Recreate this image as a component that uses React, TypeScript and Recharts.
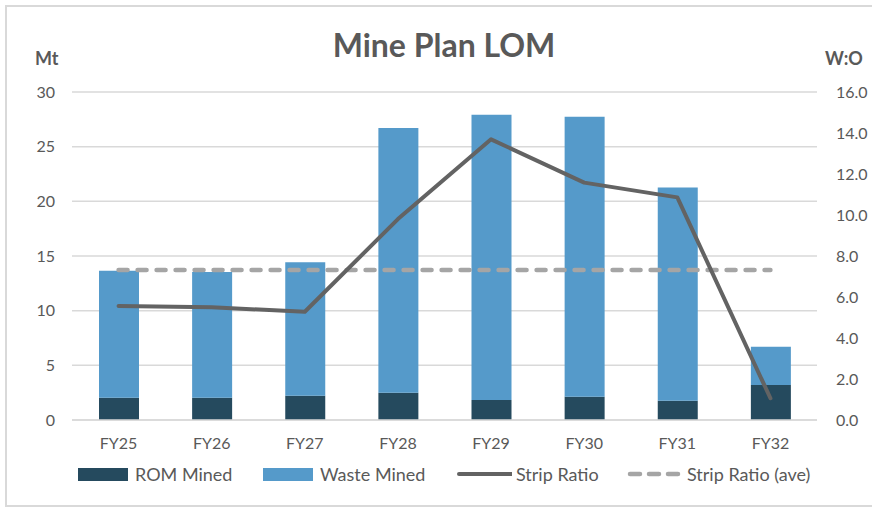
import { Bar, CartesianGrid, ComposedChart, Line, XAxis, YAxis } from 'recharts';

const years = ['FY25', 'FY26', 'FY27', 'FY28', 'FY29', 'FY30', 'FY31', 'FY32'];
const romMined = [2.04, 2.04, 2.22, 2.5, 1.83, 2.13, 1.77, 3.2];
const wasteMined = [11.6, 11.5, 12.2, 24.2, 26.1, 25.6, 19.5, 3.5];
const stripRatio = [5.56, 5.5, 5.28, 9.8, 13.69, 11.58, 10.86, 1.06];
const stripRatioAve = [7.32, 7.32, 7.32, 7.32, 7.32, 7.32, 7.32, 7.32];
const leftTicks = [0, 5, 10, 15, 20, 25, 30];
const rightTicks = [0, 2, 4, 6, 8, 10, 12, 14, 16];

const ROM_COLOR = '#254A5E';
const WASTE_COLOR = '#559ACA';
const STRIP_COLOR = '#636363';
const AVE_COLOR = '#A5A5A5';
const TEXT_COLOR = '#595959';
const GRID_COLOR = '#D9D9D9';
const FONT = 'Lato, "Open Sans", sans-serif';

const chartData = years.map((year, i) => ({
    year,
    rom: romMined[i],
    waste: wasteMined[i],
    strip: stripRatio[i],
    ave: stripRatioAve[i],
}));

function LegendItem({ x, label, kind }: { x: number; label: string; kind: 'rom' | 'waste' | 'line' | 'dash' }) {
    let swatch;
    if (kind === 'rom' || kind === 'waste') {
        swatch = (
            <div style={{ width: 50, height: 13, background: kind === 'rom' ? ROM_COLOR : WASTE_COLOR, marginRight: 7 }} />
        );
    } else {
        swatch = (
            <svg width={56} height={10} style={{ marginRight: 4 }}>
                <line
                    x1={3}
                    x2={kind === 'line' ? 56 : 52}
                    y1={5}
                    y2={5}
                    stroke={kind === 'line' ? STRIP_COLOR : AVE_COLOR}
                    strokeWidth={kind === 'line' ? 4 : 4.5}
                    strokeLinecap="round"
                    strokeDasharray={kind === 'dash' ? '10 9' : undefined}
                />
            </svg>
        );
    }
    return (
        <div
            style={{
                position: 'absolute',
                left: x,
                top: 462,
                height: 24,
                display: 'flex',
                alignItems: 'center',
                fontSize: 18,
                color: TEXT_COLOR,
                whiteSpace: 'nowrap',
            }}
        >
            {swatch}
            <span>{label}</span>
        </div>
    );
}

export default function App() {
    return (
        <div
            style={{
                position: 'absolute',
                left: 0,
                top: 0,
                width: 872,
                height: 507,
                background: '#fff',
                fontFamily: FONT,
                overflow: 'hidden',
            }}
        >
            <div
                style={{
                    position: 'absolute',
                    left: 5,
                    top: 5,
                    width: 880,
                    height: 498,
                    border: `2px solid ${GRID_COLOR}`,
                }}
            />
            <div
                style={{
                    position: 'absolute',
                    left: 244,
                    top: 29,
                    width: 400,
                    textAlign: 'center',
                    fontSize: 32,
                    lineHeight: '32px',
                    fontWeight: 700,
                    color: TEXT_COLOR,
                }}
            >
                Mine Plan LOM
            </div>
            <div style={{ position: 'absolute', left: 35, top: 49, fontSize: 18, lineHeight: '18px', fontWeight: 700, color: TEXT_COLOR }}>
                Mt
            </div>
            <div style={{ position: 'absolute', left: 825, top: 49, fontSize: 18, lineHeight: '18px', fontWeight: 700, color: TEXT_COLOR }}>
                W:O
            </div>
            <div style={{ position: 'absolute', left: 0, top: 0 }}>
                <ComposedChart width={872} height={507} data={chartData} margin={{ top: 92, right: 0, bottom: 57, left: 0 }}>
                    <CartesianGrid yAxisId="left" vertical={false} stroke={GRID_COLOR} strokeWidth={1.5} />
                    <XAxis
                        dataKey="year"
                        height={30}
                        axisLine={{ stroke: GRID_COLOR, strokeWidth: 1.5 }}
                        tickLine={false}
                        tickSize={0}
                        tickMargin={18}
                        tick={{ fill: TEXT_COLOR, fontSize: 16, fontFamily: FONT }}
                    />
                    <YAxis
                        yAxisId="left"
                        orientation="left"
                        width={72}
                        domain={[0, 30]}
                        ticks={leftTicks}
                        axisLine={false}
                        tickLine={false}
                        tickSize={0}
                        tickMargin={17}
                        tick={{ fill: TEXT_COLOR, fontSize: 16, fontFamily: FONT }}
                    />
                    <YAxis
                        yAxisId="right"
                        orientation="right"
                        width={55}
                        domain={[0, 16]}
                        ticks={rightTicks}
                        tickFormatter={(v: number) => v.toFixed(1)}
                        axisLine={false}
                        tickLine={false}
                        tickSize={0}
                        tickMargin={19}
                        tick={{ fill: TEXT_COLOR, fontSize: 16, fontFamily: FONT }}
                    />
                    <Bar yAxisId="left" dataKey="rom" stackId="mined" fill={ROM_COLOR} barSize={40} isAnimationActive={false} />
                    <Bar yAxisId="left" dataKey="waste" stackId="mined" fill={WASTE_COLOR} barSize={40} isAnimationActive={false} />
                    <Line
                        yAxisId="right"
                        type="linear"
                        dataKey="ave"
                        stroke={AVE_COLOR}
                        strokeWidth={4.5}
                        strokeDasharray="9 10"
                        strokeLinecap="round"
                        dot={false}
                        activeDot={false}
                        isAnimationActive={false}
                    />
                    <Line
                        yAxisId="right"
                        type="linear"
                        dataKey="strip"
                        stroke={STRIP_COLOR}
                        strokeWidth={4}
                        strokeLinecap="round"
                        strokeLinejoin="round"
                        dot={false}
                        activeDot={false}
                        isAnimationActive={false}
                    />
                </ComposedChart>
            </div>
            <LegendItem x={78} label="ROM Mined" kind="rom" />
            <LegendItem x={263} label="Waste Mined" kind="waste" />
            <LegendItem x={456} label="Strip Ratio" kind="line" />
            <LegendItem x={627} label="Strip Ratio (ave)" kind="dash" />
        </div>
    );
}
